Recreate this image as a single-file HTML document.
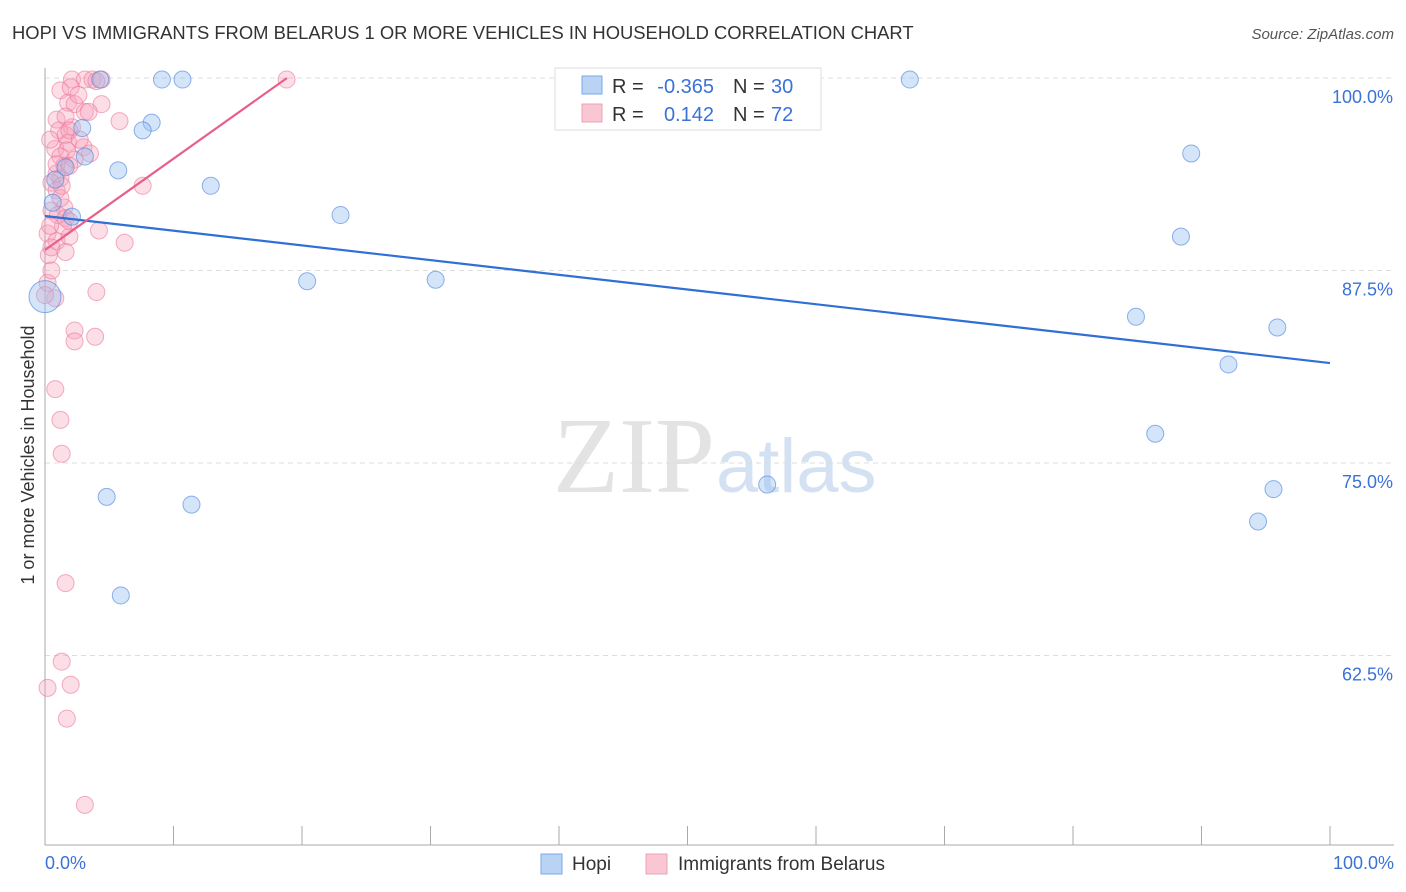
<!DOCTYPE html>
<html><head><meta charset="utf-8"><style>
body{margin:0;background:#fff;font-family:"Liberation Sans",sans-serif}
</style></head><body>
<svg id="chart" width="1406" height="892" style="display:block">
<text x="12" y="39" font-size="18.4" fill="#333">HOPI VS IMMIGRANTS FROM BELARUS 1 OR MORE VEHICLES IN HOUSEHOLD CORRELATION CHART</text>
<text x="1394" y="39" font-size="15" fill="#555" font-style="italic" text-anchor="end">Source: ZipAtlas.com</text>
<text x="715" y="492" font-size="108" fill="#e3e3e3" text-anchor="end" font-family="Liberation Serif,serif">ZIP</text>
<text x="716" y="492" font-size="76" fill="#d3e1f3">atlas</text>
<g id="grid"></g><g id="axes"></g><g id="pts"></g><g id="lines"></g>
<text transform="translate(34,455) rotate(-90)" font-size="18" fill="#333" text-anchor="middle">1 or more Vehicles in Household</text>
<text x="45" y="869" font-size="18" fill="#3a72d8">0.0%</text>
<text x="1394" y="869" font-size="18" fill="#3a72d8" text-anchor="end">100.0%</text>
<g>
<rect x="555" y="68" width="266" height="62" fill="#fff" stroke="#ddd"/>
<rect x="582" y="76" width="20" height="18" fill="#b9d3f5" stroke="#7aa7e8"/>
<rect x="582" y="104" width="20" height="18" fill="#f9c6d4" stroke="#eea0b6"/>
<text x="612" y="93" font-size="20" fill="#333">R =</text>
<text x="714" y="93" font-size="20" fill="#3a72d8" text-anchor="end">-0.365</text>
<text x="733" y="93" font-size="20" fill="#333">N =</text>
<text x="771" y="93" font-size="20" fill="#3a72d8">30</text>
<text x="612" y="121" font-size="20" fill="#333">R =</text>
<text x="714" y="121" font-size="20" fill="#3a72d8" text-anchor="end">0.142</text>
<text x="733" y="121" font-size="20" fill="#333">N =</text>
<text x="771" y="121" font-size="20" fill="#3a72d8">72</text>
</g>
<g><rect x="541" y="854" width="21" height="20" fill="#b9d3f5" stroke="#7aa7e8"/><text x="572" y="870" font-size="19" fill="#333">Hopi</text></g>
<g><rect x="646" y="854" width="21" height="20" fill="#f9c6d4" stroke="#eea0b6"/><text x="678" y="870" font-size="19" fill="#333">Immigrants from Belarus</text></g>
</svg>
<script>
const yTicks=[100,87.5,75,62.5];
const blueX=[4.3,9.1,10.7,67.3,2.9,8.3,7.6,3.1,5.7,12.9,89.2,23.0,2.1,0.6,88.4,20.4,30.4,0.0,84.9,95.9,92.1,86.4,4.8,11.4,56.2,95.6,94.4,5.9,1.6,0.8];
const blueY=[99.9,99.9,99.9,99.9,96.75,97.1,96.6,94.9,94.0,93.0,95.1,91.1,91.0,91.9,89.7,86.8,86.9,85.8,84.5,83.8,81.4,76.9,72.8,72.3,73.6,73.3,71.2,66.4,94.2,93.4];
const pinkX=[2.1,3.1,3.7,4.4,18.8,1.2,2.0,1.8,2.3,4.4,3.1,3.4,5.8,0.9,2.1,1.1,1.6,1.8,0.8,1.7,3.0,3.5,1.2,2.3,1.5,0.9,1.2,0.5,7.6,0.9,1.5,0.5,1.6,1.9,4.2,0.2,0.9,1.9,6.2,1.6,0.3,0.5,0.2,0.8,4.0,2.3,2.3,3.9,0.8,1.2,1.3,1.6,1.3,0.2,2.0,1.7,3.1,0.9,0.4,2.6,4.0,1.6,1.9,1.0,1.4,0.5,1.9,2.7,0,1.2,0.4,1.3];
const pinkY=[99.9,99.9,99.9,99.9,99.9,99.2,99.4,98.4,98.3,98.3,97.8,97.8,97.2,97.3,96.8,96.6,96.3,95.8,95.4,95.3,95.5,95.1,94.9,94.7,94.3,93.8,93.5,93.2,93.0,92.7,91.6,91.4,90.9,90.7,90.1,89.9,89.4,89.7,89.3,88.7,88.5,89.0,86.7,85.7,86.1,83.6,82.9,83.2,79.8,77.8,75.6,67.2,62.1,60.4,60.6,58.4,52.8,94.4,96.0,98.9,99.8,97.5,94.3,91.1,90.4,87.5,96.6,96.0,85.9,92.2,90.4,93.0];
const blueTrend=[91.04,81.49];
const pinkTrendX=[0,18.83];
const pinkTrendY=[88.83,100];
const NS='http://www.w3.org/2000/svg';
const X=v=>45+v*12.85, Y=v=>78+(100-v)*15.4;
function mk(t,a,p){const e=document.createElementNS(NS,t);for(const k in a)e.setAttribute(k,a[k]);document.getElementById(p).appendChild(e);return e;}
yTicks.forEach((t,i)=>{
 const l=mk('line',{x1:45,x2:1394,y1:Y(t),y2:Y(t),stroke:'#ddd','stroke-dasharray':'5,4'},'grid');
 
 
 const tx=mk('text',{x:1393,y:Y(t)+25,'font-size':18,fill:'#3a72d8','text-anchor':'end'},'grid');
 tx.textContent=t.toFixed(1)+'%';
 
 
});
const ax=mk('line',{x1:45,x2:45,y1:68,y2:845,stroke:'#aaa'},'axes');


const bx=mk('line',{x1:45,x2:1394,y1:845,y2:845,stroke:'#aaa'},'axes');


for(let i=0;i<=10;i++){const t=mk('line',{x1:X(i*10),x2:X(i*10),y1:826,y2:845,stroke:'#aaa'},'axes');
 
 }
pinkX.forEach((v,i)=>{const c=mk('circle',{cx:X(v),cy:Y(pinkY[i]),r:8.5,fill:'rgba(246,160,185,0.35)',stroke:'rgba(236,120,155,0.6)','stroke-width':1},'pts');
 
 });
blueX.forEach((v,i)=>{const c=mk('circle',{cx:X(v),cy:Y(blueY[i]),r:i==17?16:8.5,fill:'rgba(150,190,240,0.4)',stroke:'rgba(70,130,220,0.6)','stroke-width':1},'pts');
 
 });
const bl=mk('line',{x1:X(0),y1:Y(blueTrend[0]),x2:X(100),y2:Y(blueTrend[1]),stroke:'#2f6fd6','stroke-width':2.2},'lines');


const pl=mk('line',{x1:X(pinkTrendX[0]),y1:Y(pinkTrendY[0]),x2:X(pinkTrendX[1]),y2:Y(pinkTrendY[1]),stroke:'#e8608a','stroke-width':2.2},'lines');


</script>
</body></html>
